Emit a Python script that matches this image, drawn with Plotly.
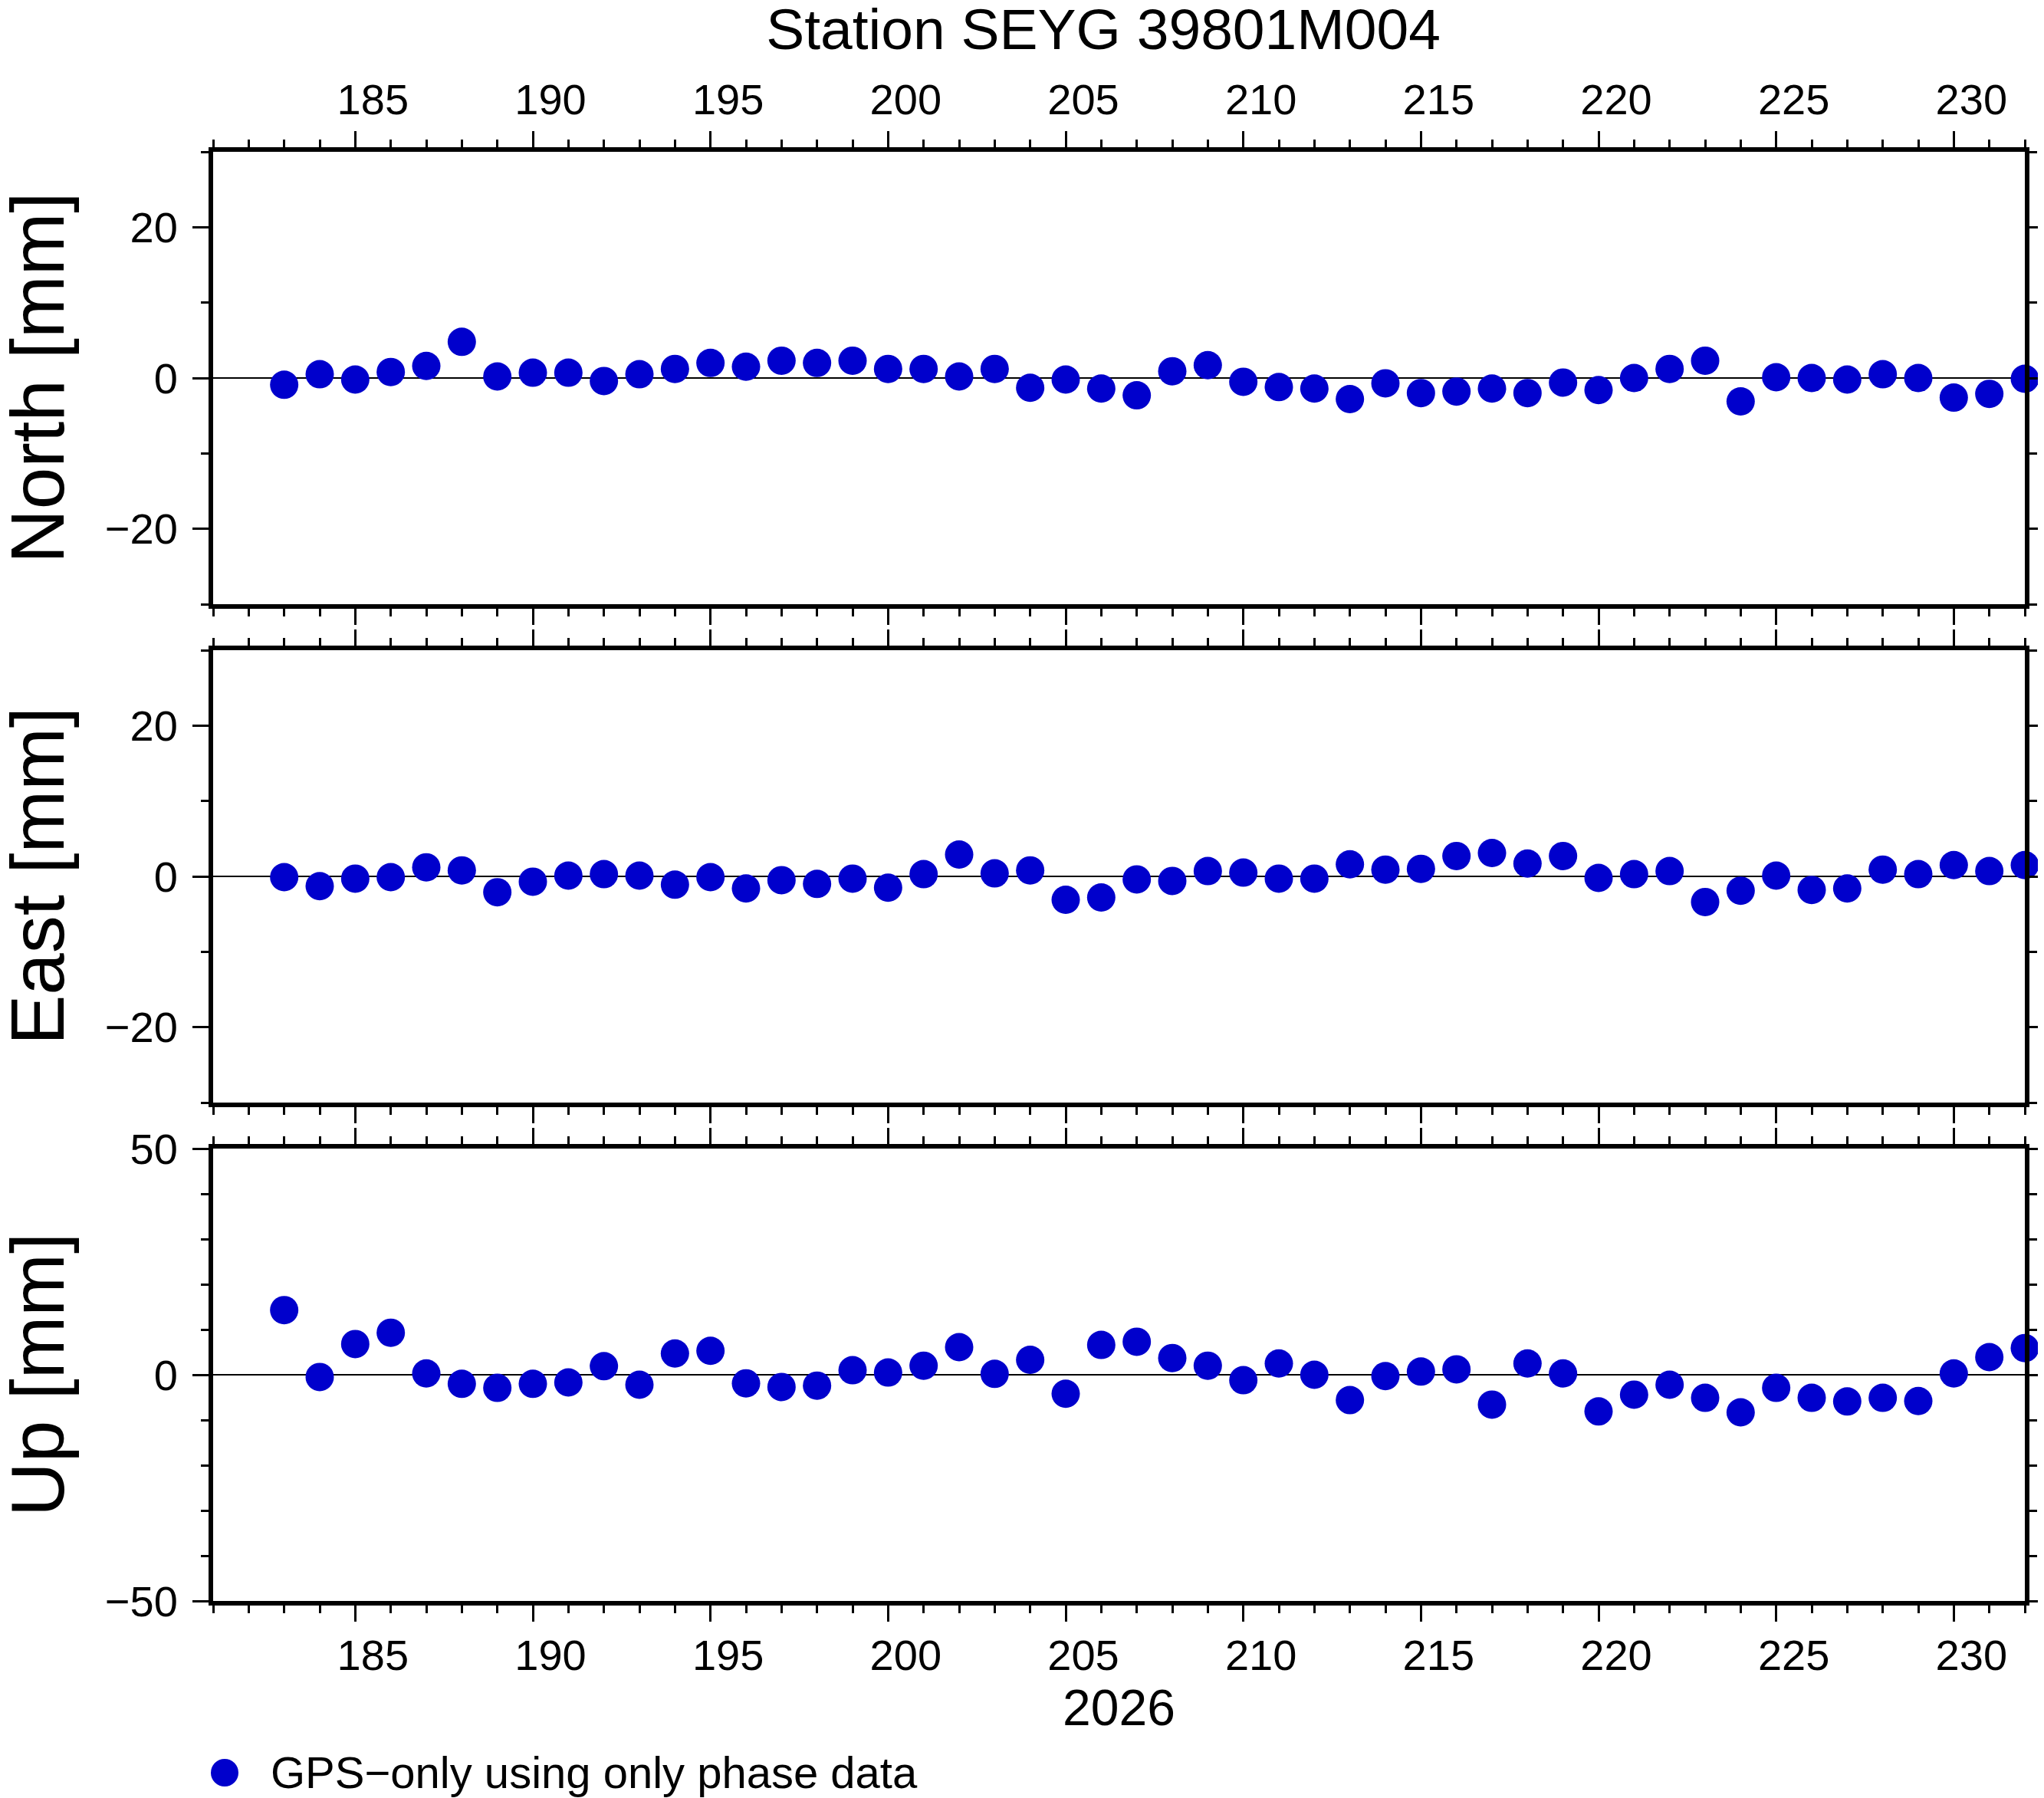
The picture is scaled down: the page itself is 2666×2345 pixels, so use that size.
import plotly.graph_objects as go

# day of year 2026
days = [183, 184, 185, 186, 187, 188, 189, 190, 191, 192,
        193, 194, 195, 196, 197, 198, 199, 200, 201, 202,
        203, 204, 205, 206, 207, 208, 209, 210, 211, 212,
        213, 214, 215, 216, 217, 218, 219, 220, 221, 222,
        223, 224, 225, 226, 227, 228, 229, 230, 231, 232]

north = [-0.9, 0.5, -0.2, 0.8, 1.6, 4.8, 0.2, 0.7, 0.7, -0.4,
         0.5, 1.2, 2.0, 1.5, 2.3, 2.0, 2.3, 1.2, 1.2, 0.2,
         1.2, -1.3, -0.2, -1.4, -2.3, 0.9, 1.7, -0.5, -1.2, -1.4,
         -2.8, -0.7, -2.0, -1.8, -1.4, -2.0, -0.6, -1.6, 0.0, 1.2,
         2.3, -3.1, 0.1, 0.0, -0.2, 0.5, 0.0, -2.6, -2.1, -0.1]

east = [-0.1, -1.3, -0.3, -0.1, 1.2, 0.8, -2.1, -0.7, 0.1, 0.3,
        0.1, -1.1, -0.1, -1.6, -0.5, -1.0, -0.3, -1.5, 0.3, 2.9,
        0.4, 0.8, -3.1, -2.8, -0.4, -0.6, 0.7, 0.5, -0.3, -0.3,
        1.6, 0.9, 1.0, 2.7, 3.1, 1.7, 2.7, -0.2, 0.3, 0.7,
        -3.4, -1.9, 0.1, -1.8, -1.6, 0.9, 0.3, 1.5, 0.7, 1.5]

up = [14.3, -0.5, 6.8, 9.3, 0.3, -2.0, -2.9, -2.0, -1.7, 1.9,
      -2.2, 4.7, 5.3, -1.9, -2.7, -2.4, 1.0, 0.5, 2.0, 6.1,
      0.2, 3.3, -4.2, 6.6, 7.3, 3.7, 2.0, -1.2, 2.5, 0.0,
      -5.6, -0.3, 0.7, 1.2, -6.6, 2.5, 0.3, -8.1, -4.4, -2.2,
      -5.1, -8.3, -2.9, -5.1, -5.9, -5.1, -5.8, 0.3, 3.9, 5.9]

title = "Station SEYG 39801M004"
year_label = "2026"
legend_label = "GPS\u2212only using only phase data"
panel_titles = ["North [mm]", "East [mm]", "Up [mm]"]

BLUE = "#0000CC"
FONT = "Liberation Sans, Arial, Helvetica, sans-serif"
# the page body has an 8px margin, so the figure is a bit smaller than the window
W, H = 2658, 2337
ML, MR, MT, MB = 270, 25, 190, 257
PH = H - MT - MB  # plot area height
PW = W - ML - MR

# panel domains (bottom -> top)
dom_up = [0.0, 590 / PH]
dom_east = [650 / PH, 1240 / PH]
dom_north = [1300 / PH, 1.0]

fig = go.Figure()
for series, xa, ya in [(north, "x", "y"), (east, "x2", "y2"), (up, "x3", "y3")]:
    fig.add_trace(go.Scatter(
        x=days, y=series, xaxis=xa, yaxis=ya, mode="markers",
        marker=dict(color=BLUE, size=37, line=dict(width=0)),
        cliponaxis=False, showlegend=False, name=legend_label,
    ))

tickfont = dict(family=FONT, size=56, color="black")

xcommon = dict(
    range=[181, 232], tick0=0, dtick=5, ticks="outside", ticklen=21, tickwidth=3,
    tickcolor="black", showline=True, linewidth=6, linecolor="black", mirror="ticks",
    showgrid=False, zeroline=False, tickfont=tickfont, ticklabelshift=23,
    minor=dict(dtick=1, tick0=0, ticks="outside", ticklen=10, tickwidth=3, tickcolor="black", showgrid=False),
)
ycommon = dict(
    ticks="outside", ticklen=21, tickwidth=3, tickcolor="black",
    showline=True, linewidth=6, linecolor="black", mirror="ticks",
    showgrid=False, zeroline=True, zerolinecolor="black", zerolinewidth=1.5,
    tickfont=tickfont, ticklabelstandoff=8,
)
yminor = dict(ticks="outside", ticklen=10, tickwidth=3, tickcolor="black")

fig.update_layout(
    width=W, height=H,
    margin=dict(l=ML, r=MR, t=MT, b=MB, autoexpand=False),
    paper_bgcolor="white", plot_bgcolor="white",
    font=dict(family=FONT, color="black"),
    title=dict(text=title, x=1431 / W, xanchor="center", xref="container",
               y=1 - 29.5 / H, yanchor="middle", yref="container",
               font=dict(family=FONT, size=75, color="black")),
    xaxis=dict(xcommon, anchor="y", side="top", domain=[0, 1]),
    xaxis2=dict(xcommon, anchor="y2", matches="x", showticklabels=False, domain=[0, 1]),
    xaxis3=dict(xcommon, anchor="y3", matches="x", side="bottom", domain=[0, 1],
                ticklabelstandoff=-4,
                title=dict(text=year_label, font=dict(family=FONT, size=66, color="black"), standoff=7)),
    yaxis=dict(ycommon, anchor="x", domain=dom_north, range=[-30, 30],
               tickvals=[-20, 0, 20], minor=dict(yminor, tickvals=[-30, -10, 10, 30])),
    yaxis2=dict(ycommon, anchor="x2", domain=dom_east, range=[-30, 30],
                tickvals=[-20, 0, 20], minor=dict(yminor, tickvals=[-30, -10, 10, 30])),
    yaxis3=dict(ycommon, anchor="x3", domain=dom_up, range=[-50, 50],
                tickvals=[-50, 0, 50], minor=dict(yminor, tickvals=[-40, -30, -20, -10, 10, 20, 30, 40])),
)

# y axis titles, centred on each panel
for text, dom in zip(panel_titles, [dom_north, dom_east, dom_up]):
    fig.add_annotation(
        text=text, textangle=-90, xref="paper", yref="paper",
        x=(41 - ML) / PW, y=(dom[0] + dom[1]) / 2, xanchor="center", yanchor="middle",
        showarrow=False, font=dict(family=FONT, size=98, color="black"),
    )

# legend key
fig.add_shape(type="circle", xref="paper", yref="paper", xsizemode="pixel", ysizemode="pixel",
              xanchor=(285 - ML) / PW, yanchor=(H - MB - 2304) / PH,
              x0=-18, x1=18, y0=-18, y1=18, fillcolor=BLUE, line=dict(width=0))
fig.add_annotation(
    text=legend_label, xref="paper", yref="paper",
    x=(343 - ML) / PW, y=(H - MB - 2303) / PH, xanchor="left", yanchor="middle",
    showarrow=False, font=dict(family=FONT, size=58, color="black"),
)

fig.write_html("out.html")
